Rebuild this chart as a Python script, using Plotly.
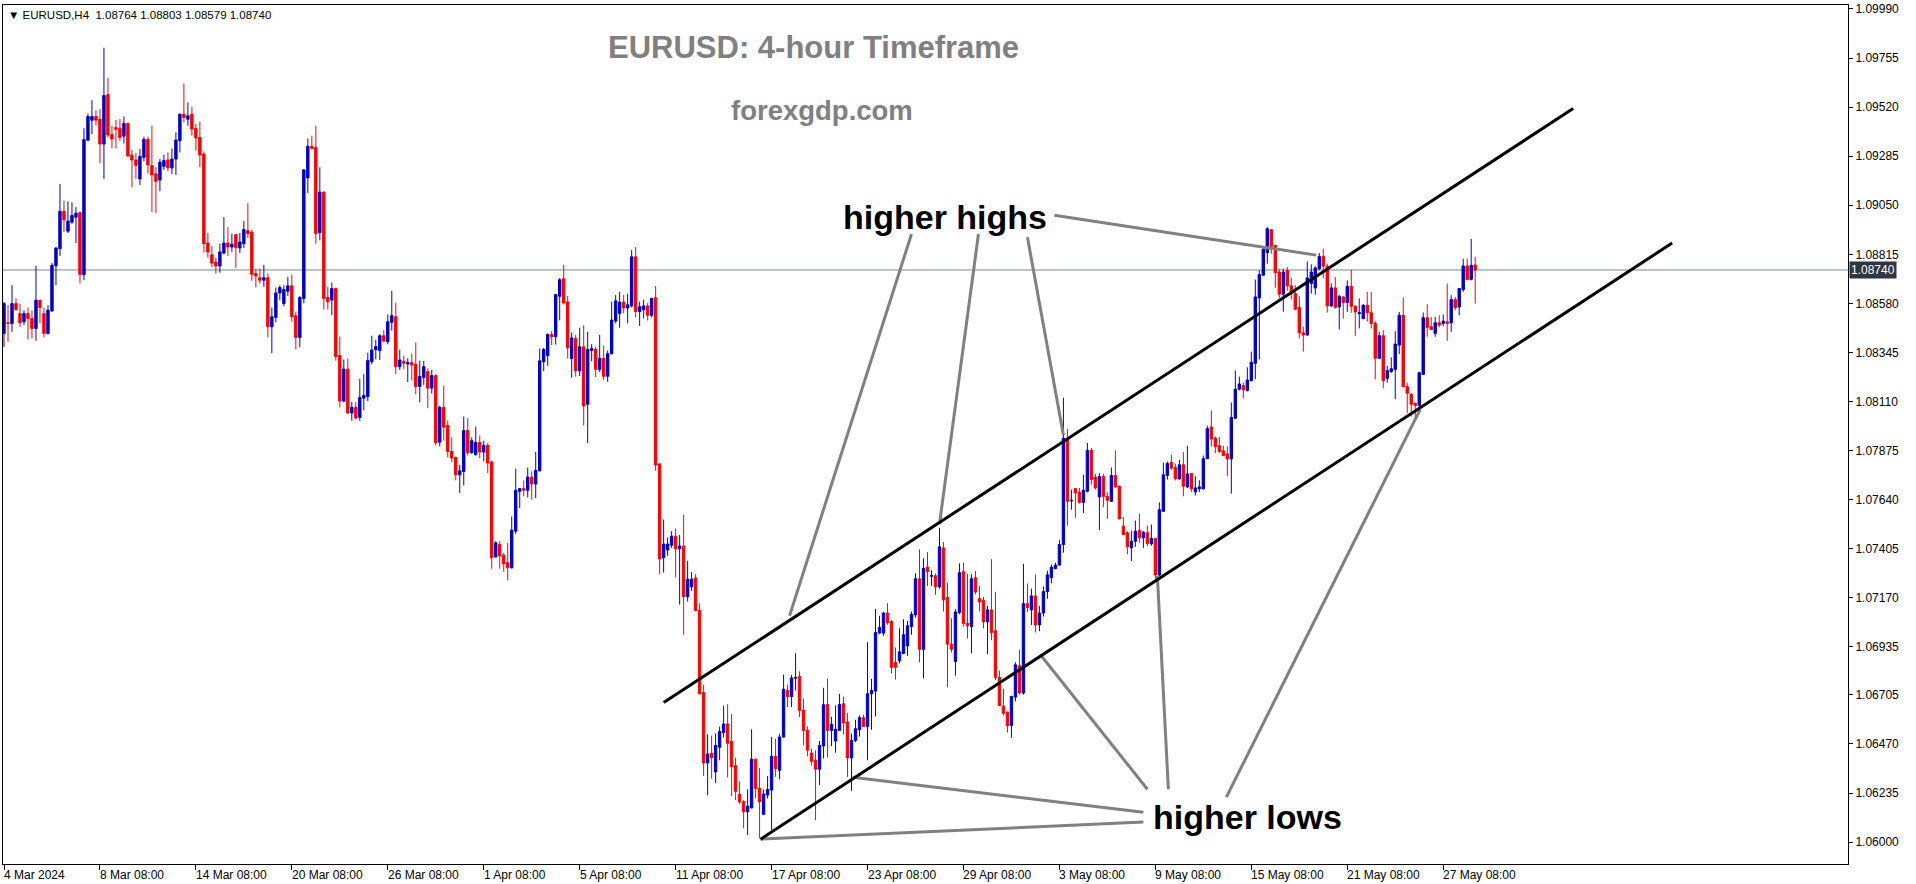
import plotly.graph_objects as go

# ---------------- data (EURUSD H4 candles) ----------------
bar_open = [
    1.08436, 1.08487, 1.08484, 1.08579, 1.08531, 1.08492, 1.08531, 1.08508, 1.08460, 1.08595, 1.08531, 1.08436, 1.08544, 1.08760, 1.08842, 1.09021, 1.08926, 1.08969, 1.08993, 1.09014, 1.08718, 1.09362, 1.09457, 1.09475, 1.09462, 1.09343, 1.09580, 1.09389, 1.09422, 1.09419, 1.09381, 1.09442, 1.09290, 1.09267, 1.09176, 1.09279, 1.09365,
    1.09240, 1.09200, 1.09171, 1.09236, 1.09267, 1.09229, 1.09271, 1.09359, 1.09486, 1.09462, 1.09486, 1.09418, 1.09375, 1.09295, 1.08869, 1.08813, 1.08778, 1.08759, 1.08821, 1.08869, 1.08850, 1.08909, 1.08845, 1.08866, 1.08929, 1.08921, 1.08723, 1.08703, 1.08691, 1.08703, 1.08468, 1.08513, 1.08630, 1.08579, 1.08638, 1.08664, 1.08521,
    1.08417, 1.08603, 1.09181, 1.09332, 1.09327, 1.08919, 1.09113, 1.08608, 1.08596, 1.08651, 1.08330, 1.08112, 1.08265, 1.08055, 1.08082, 1.08034, 1.08126, 1.08134, 1.08301, 1.08358, 1.08354, 1.08425, 1.08397, 1.08489, 1.08516, 1.08277, 1.08303, 1.08290, 1.08296, 1.08288, 1.08182, 1.08225, 1.08253, 1.08174, 1.08234, 1.07915, 1.08082,
    1.07995, 1.07871, 1.07842, 1.07759, 1.07775, 1.07971, 1.07866, 1.07855, 1.07914, 1.07868, 1.07900, 1.07820, 1.07366, 1.07425, 1.07374, 1.07338, 1.07314, 1.07489, 1.07680, 1.07693, 1.07685, 1.07748, 1.07715, 1.07778, 1.08300, 1.08330, 1.08431, 1.08420, 1.08614, 1.08698, 1.08587, 1.08316, 1.08412, 1.08257, 1.08372, 1.08097, 1.08354,
    1.08360, 1.08264, 1.08317, 1.08231, 1.08339, 1.08495, 1.08532, 1.08586, 1.08558, 1.08568, 1.08803, 1.08541, 1.08549, 1.08568, 1.08523, 1.08607, 1.07811, 1.07362, 1.07399, 1.07422, 1.07465, 1.07405, 1.07418, 1.07175, 1.07222, 1.07265, 1.07109, 1.06716, 1.06379, 1.06426, 1.06336, 1.06454, 1.06525, 1.06566, 1.06482, 1.06366, 1.06229,
    1.06193, 1.06145, 1.06164, 1.06397, 1.06257, 1.06133, 1.06225, 1.06249, 1.06411, 1.06344, 1.06503, 1.06726, 1.06697, 1.06785, 1.06793, 1.06631, 1.06535, 1.06427, 1.06392, 1.06349, 1.06460, 1.06659, 1.06535, 1.06484, 1.06535, 1.06662, 1.06575, 1.06403, 1.06487, 1.06538, 1.06596, 1.06554, 1.06710, 1.06723, 1.07001, 1.07001, 1.07097,
    1.07056, 1.06861, 1.06868, 1.06903, 1.06940, 1.07032, 1.07088, 1.07261, 1.06923, 1.07317, 1.07273, 1.07276, 1.07222, 1.07409, 1.07171, 1.06948, 1.06865, 1.07099, 1.07295, 1.07048, 1.07032, 1.07266, 1.07166, 1.07158, 1.07055, 1.07112, 1.07012, 1.06789, 1.06651, 1.06622, 1.06558, 1.06694, 1.06845, 1.06714, 1.07142, 1.07112, 1.07179,
    1.07040, 1.07097, 1.07200, 1.07266, 1.07310, 1.07327, 1.07425, 1.07934, 1.07634, 1.07693, 1.07675, 1.07627, 1.07680, 1.07876, 1.07748, 1.07653, 1.07751, 1.07656, 1.07632, 1.07756, 1.07704, 1.07513, 1.07481, 1.07409, 1.07441, 1.07492, 1.07457, 1.07481, 1.07428, 1.07454, 1.07279, 1.07584, 1.07756, 1.07818, 1.07794, 1.07739, 1.07807,
    1.07701, 1.07765, 1.07677, 1.07692, 1.07692, 1.07836, 1.07988, 1.07935, 1.07898, 1.07874, 1.07859, 1.07835, 1.08030, 1.08169, 1.08186, 1.08163, 1.08210, 1.08293, 1.08606, 1.08715, 1.08823, 1.08933, 1.08858, 1.08730, 1.08624, 1.08738, 1.08664, 1.08627, 1.08560, 1.08439, 1.08428, 1.08675, 1.08654, 1.08746, 1.08805, 1.08758, 1.08568,
    1.08654, 1.08563, 1.08611, 1.08584, 1.08662, 1.08566, 1.08531, 1.08507, 1.08571, 1.08535, 1.08484, 1.08317, 1.08425, 1.08221, 1.08253, 1.08264, 1.08380, 1.08523, 1.08181, 1.08145, 1.08102, 1.08091, 1.08240, 1.08511, 1.08468, 1.08436, 1.08487, 1.08484, 1.08492, 1.08487, 1.08598, 1.08563, 1.08646, 1.08759, 1.08695, 1.08764,
]
bar_high = [
    1.08587, 1.08571, 1.08667, 1.08603, 1.08579, 1.08547, 1.08560, 1.08547, 1.08759, 1.08597, 1.08560, 1.08571, 1.08773, 1.08850, 1.09152, 1.09072, 1.09069, 1.09064, 1.09041, 1.09020, 1.09419, 1.09489, 1.09553, 1.09505, 1.09510, 1.09804, 1.09661, 1.09430, 1.09459, 1.09462, 1.09475, 1.09446, 1.09314, 1.09300, 1.09319, 1.09378, 1.09378,
    1.09431, 1.09232, 1.09271, 1.09292, 1.09303, 1.09322, 1.09399, 1.09489, 1.09633, 1.09542, 1.09521, 1.09439, 1.09451, 1.09308, 1.08917, 1.08855, 1.08799, 1.08866, 1.08993, 1.08945, 1.08914, 1.08912, 1.08917, 1.08974, 1.09060, 1.08933, 1.08746, 1.08746, 1.08764, 1.08723, 1.08560, 1.08656, 1.08667, 1.08667, 1.08707, 1.08718, 1.08540,
    1.08615, 1.09224, 1.09370, 1.09383, 1.09431, 1.09232, 1.09116, 1.08659, 1.08680, 1.08656, 1.08421, 1.08311, 1.08316, 1.08107, 1.08107, 1.08218, 1.08241, 1.08344, 1.08425, 1.08405, 1.08432, 1.08452, 1.08527, 1.08640, 1.08583, 1.08358, 1.08330, 1.08317, 1.08339, 1.08393, 1.08306, 1.08304, 1.08269, 1.08261, 1.08241, 1.08090, 1.08187,
    1.08019, 1.07938, 1.07847, 1.07807, 1.08038, 1.08030, 1.07938, 1.07990, 1.07947, 1.07922, 1.07911, 1.07828, 1.07441, 1.07441, 1.07385, 1.07433, 1.07560, 1.07788, 1.07696, 1.07732, 1.07794, 1.07775, 1.07868, 1.08364, 1.08367, 1.08436, 1.08448, 1.08626, 1.08701, 1.08765, 1.08615, 1.08440, 1.08428, 1.08463, 1.08475, 1.08444, 1.08385,
    1.08373, 1.08429, 1.08377, 1.08354, 1.08588, 1.08620, 1.08635, 1.08620, 1.08626, 1.08835, 1.08850, 1.08588, 1.08597, 1.08582, 1.08607, 1.08663, 1.07815, 1.07545, 1.07459, 1.07489, 1.07502, 1.07471, 1.07568, 1.07347, 1.07293, 1.07283, 1.07143, 1.06754, 1.06516, 1.06510, 1.06520, 1.06553, 1.06654, 1.06660, 1.06613, 1.06404, 1.06291,
    1.06201, 1.06252, 1.06540, 1.06400, 1.06355, 1.06252, 1.06316, 1.06503, 1.06495, 1.06519, 1.06802, 1.06753, 1.06801, 1.06904, 1.06818, 1.06686, 1.06554, 1.06448, 1.06440, 1.06484, 1.06739, 1.06782, 1.06599, 1.06654, 1.06710, 1.06697, 1.06618, 1.06519, 1.06586, 1.06607, 1.06610, 1.06957, 1.06782, 1.07116, 1.07084, 1.07103, 1.07144,
    1.07063, 1.06932, 1.07024, 1.07067, 1.07059, 1.07104, 1.07287, 1.07402, 1.07359, 1.07389, 1.07301, 1.07287, 1.07505, 1.07437, 1.07242, 1.07072, 1.07115, 1.07335, 1.07338, 1.07285, 1.07282, 1.07298, 1.07226, 1.07174, 1.07131, 1.07355, 1.07198, 1.06821, 1.06733, 1.06625, 1.06701, 1.06861, 1.06921, 1.07333, 1.07238, 1.07214, 1.07282,
    1.07130, 1.07225, 1.07300, 1.07330, 1.07338, 1.07446, 1.08128, 1.07979, 1.07688, 1.07696, 1.07696, 1.07759, 1.07911, 1.07887, 1.07763, 1.07767, 1.07764, 1.07675, 1.07794, 1.07876, 1.07708, 1.07557, 1.07489, 1.07492, 1.07540, 1.07573, 1.07489, 1.07516, 1.07521, 1.07457, 1.07627, 1.07818, 1.07823, 1.07855, 1.07812, 1.07831, 1.07868,
    1.07898, 1.07768, 1.07752, 1.07733, 1.07851, 1.07994, 1.08067, 1.07943, 1.07940, 1.07898, 1.07895, 1.08105, 1.08258, 1.08229, 1.08202, 1.08274, 1.08349, 1.08694, 1.08738, 1.08853, 1.08945, 1.08934, 1.08860, 1.08746, 1.08746, 1.08754, 1.08703, 1.08667, 1.08614, 1.08468, 1.08781, 1.08767, 1.08758, 1.08821, 1.08842, 1.08770, 1.08675,
    1.08706, 1.08619, 1.08614, 1.08690, 1.08741, 1.08571, 1.08603, 1.08576, 1.08635, 1.08635, 1.08495, 1.08444, 1.08452, 1.08280, 1.08321, 1.08447, 1.08539, 1.08608, 1.08200, 1.08150, 1.08105, 1.08253, 1.08536, 1.08576, 1.08515, 1.08515, 1.08523, 1.08527, 1.08675, 1.08619, 1.08611, 1.08654, 1.08794, 1.08794, 1.08889, 1.08803,
]
bar_low = [
    1.08372, 1.08396, 1.08444, 1.08544, 1.08468, 1.08476, 1.08407, 1.08412, 1.08401, 1.08484, 1.08417, 1.08431, 1.08539, 1.08667, 1.08807, 1.08921, 1.08917, 1.08961, 1.08869, 1.08675, 1.08691, 1.09356, 1.09391, 1.09432, 1.09251, 1.09176, 1.09375, 1.09322, 1.09322, 1.09359, 1.09346, 1.09282, 1.09136, 1.09176, 1.09147, 1.09260, 1.09203,
    1.09017, 1.09012, 1.09117, 1.09219, 1.09213, 1.09200, 1.09195, 1.09303, 1.09446, 1.09431, 1.09383, 1.09311, 1.09232, 1.08823, 1.08799, 1.08754, 1.08723, 1.08727, 1.08815, 1.08807, 1.08826, 1.08750, 1.08821, 1.08845, 1.08894, 1.08688, 1.08656, 1.08675, 1.08659, 1.08417, 1.08341, 1.08489, 1.08595, 1.08567, 1.08616, 1.08492, 1.08360,
    1.08370, 1.08580, 1.09109, 1.09316, 1.08866, 1.08882, 1.08551, 1.08551, 1.08524, 1.08306, 1.08081, 1.08107, 1.08051, 1.08018, 1.08023, 1.08018, 1.08069, 1.08112, 1.08288, 1.08312, 1.08309, 1.08393, 1.08384, 1.08449, 1.08241, 1.08261, 1.08266, 1.08203, 1.08211, 1.08145, 1.08106, 1.08190, 1.08078, 1.08147, 1.07900, 1.07895, 1.07923,
    1.07842, 1.07820, 1.07732, 1.07672, 1.07708, 1.07852, 1.07858, 1.07852, 1.07839, 1.07823, 1.07767, 1.07309, 1.07362, 1.07309, 1.07295, 1.07253, 1.07309, 1.07476, 1.07600, 1.07656, 1.07651, 1.07640, 1.07648, 1.07775, 1.08256, 1.08281, 1.08380, 1.08383, 1.08499, 1.08574, 1.08316, 1.08224, 1.08229, 1.08232, 1.07995, 1.07911, 1.08303,
    1.08227, 1.08251, 1.08214, 1.08204, 1.08335, 1.08485, 1.08463, 1.08532, 1.08485, 1.08560, 1.08513, 1.08472, 1.08508, 1.08498, 1.08513, 1.07778, 1.07283, 1.07291, 1.07371, 1.07409, 1.07268, 1.07137, 1.06993, 1.07152, 1.07203, 1.07106, 1.06707, 1.06317, 1.06224, 1.06304, 1.06282, 1.06392, 1.06501, 1.06310, 1.06220, 1.06201, 1.06183,
    1.06066, 1.06034, 1.06161, 1.06209, 1.06018, 1.06129, 1.06209, 1.06058, 1.06312, 1.06301, 1.06500, 1.06647, 1.06647, 1.06726, 1.06599, 1.06463, 1.06411, 1.06368, 1.06106, 1.06273, 1.06400, 1.06405, 1.06460, 1.06428, 1.06532, 1.06516, 1.06312, 1.06245, 1.06479, 1.06506, 1.06551, 1.06392, 1.06538, 1.06602, 1.06996, 1.06988, 1.07041,
    1.06808, 1.06778, 1.06856, 1.06900, 1.06892, 1.06993, 1.07075, 1.06861, 1.06784, 1.07226, 1.07226, 1.07184, 1.07214, 1.07104, 1.06741, 1.06908, 1.06797, 1.07091, 1.07032, 1.06975, 1.06904, 1.07187, 1.07104, 1.07024, 1.06900, 1.06967, 1.06776, 1.06651, 1.06606, 1.06525, 1.06499, 1.06674, 1.06706, 1.06706, 1.07102, 1.07040, 1.07004,
    1.07010, 1.07080, 1.07165, 1.07240, 1.07306, 1.07322, 1.07386, 1.07516, 1.07592, 1.07553, 1.07621, 1.07576, 1.07675, 1.07712, 1.07688, 1.07494, 1.07605, 1.07548, 1.07629, 1.07697, 1.07545, 1.07470, 1.07378, 1.07346, 1.07414, 1.07433, 1.07409, 1.07417, 1.07420, 1.07261, 1.07274, 1.07581, 1.07736, 1.07783, 1.07732, 1.07736, 1.07656,
    1.07696, 1.07676, 1.07660, 1.07676, 1.07688, 1.07835, 1.07895, 1.07863, 1.07863, 1.07848, 1.07752, 1.07669, 1.08026, 1.08163, 1.08126, 1.08158, 1.08205, 1.08217, 1.08312, 1.08711, 1.08770, 1.08818, 1.08654, 1.08606, 1.08540, 1.08640, 1.08600, 1.08548, 1.08412, 1.08349, 1.08425, 1.08627, 1.08622, 1.08738, 1.08699, 1.08536, 1.08563,
    1.08555, 1.08455, 1.08507, 1.08539, 1.08535, 1.08423, 1.08460, 1.08504, 1.08492, 1.08460, 1.08216, 1.08313, 1.08173, 1.08200, 1.08248, 1.08121, 1.08337, 1.08178, 1.08054, 1.08038, 1.08030, 1.08078, 1.08237, 1.08420, 1.08452, 1.08420, 1.08465, 1.08471, 1.08401, 1.08444, 1.08547, 1.08523, 1.08635, 1.08690, 1.08690, 1.08579,
]
bar_close = [
    1.08579, 1.08484, 1.08579, 1.08551, 1.08487, 1.08531, 1.08508, 1.08460, 1.08595, 1.08560, 1.08436, 1.08547, 1.08762, 1.08845, 1.09021, 1.08980, 1.08974, 1.09001, 1.09012, 1.08718, 1.09365, 1.09475, 1.09475, 1.09457, 1.09343, 1.09575, 1.09386, 1.09367, 1.09414, 1.09375, 1.09442, 1.09286, 1.09267, 1.09241, 1.09284, 1.09365, 1.09243,
    1.09195, 1.09165, 1.09256, 1.09264, 1.09229, 1.09271, 1.09362, 1.09486, 1.09470, 1.09478, 1.09415, 1.09372, 1.09291, 1.08866, 1.08826, 1.08773, 1.08759, 1.08826, 1.08869, 1.08850, 1.08863, 1.08847, 1.08874, 1.08934, 1.08914, 1.08719, 1.08711, 1.08691, 1.08703, 1.08468, 1.08516, 1.08630, 1.08656, 1.08646, 1.08664, 1.08516, 1.08417,
    1.08608, 1.09219, 1.09332, 1.09323, 1.08914, 1.09113, 1.08604, 1.08588, 1.08651, 1.08325, 1.08112, 1.08265, 1.08055, 1.08082, 1.08031, 1.08129, 1.08139, 1.08306, 1.08357, 1.08373, 1.08425, 1.08400, 1.08492, 1.08521, 1.08277, 1.08309, 1.08293, 1.08296, 1.08285, 1.08182, 1.08230, 1.08277, 1.08174, 1.08234, 1.07912, 1.08082, 1.07987,
    1.07871, 1.07839, 1.07759, 1.07778, 1.07971, 1.07866, 1.07922, 1.07914, 1.07868, 1.07900, 1.07815, 1.07362, 1.07433, 1.07370, 1.07333, 1.07314, 1.07494, 1.07685, 1.07693, 1.07685, 1.07748, 1.07715, 1.07780, 1.08305, 1.08359, 1.08431, 1.08420, 1.08622, 1.08693, 1.08582, 1.08367, 1.08415, 1.08257, 1.08372, 1.08089, 1.08359, 1.08364,
    1.08264, 1.08317, 1.08231, 1.08339, 1.08500, 1.08592, 1.08586, 1.08558, 1.08573, 1.08803, 1.08541, 1.08564, 1.08568, 1.08523, 1.08603, 1.07806, 1.07356, 1.07427, 1.07427, 1.07465, 1.07405, 1.07418, 1.07175, 1.07259, 1.07259, 1.07109, 1.06710, 1.06379, 1.06422, 1.06404, 1.06463, 1.06529, 1.06566, 1.06473, 1.06361, 1.06243, 1.06192,
    1.06145, 1.06172, 1.06397, 1.06257, 1.06193, 1.06230, 1.06252, 1.06411, 1.06352, 1.06503, 1.06732, 1.06697, 1.06786, 1.06788, 1.06631, 1.06535, 1.06440, 1.06387, 1.06349, 1.06463, 1.06658, 1.06535, 1.06564, 1.06540, 1.06659, 1.06570, 1.06403, 1.06487, 1.06543, 1.06596, 1.06554, 1.06710, 1.06726, 1.07004, 1.07028, 1.07097, 1.07052,
    1.06837, 1.06837, 1.06911, 1.06993, 1.07036, 1.07091, 1.07261, 1.06923, 1.07311, 1.07295, 1.07276, 1.07222, 1.07414, 1.07160, 1.06948, 1.06923, 1.07102, 1.07290, 1.07047, 1.07036, 1.07261, 1.07198, 1.07150, 1.07055, 1.07112, 1.07004, 1.06789, 1.06654, 1.06617, 1.06558, 1.06697, 1.06849, 1.06714, 1.07142, 1.07123, 1.07179, 1.07040,
    1.07097, 1.07200, 1.07280, 1.07317, 1.07327, 1.07425, 1.07934, 1.07632, 1.07637, 1.07672, 1.07627, 1.07685, 1.07876, 1.07736, 1.07696, 1.07751, 1.07656, 1.07637, 1.07756, 1.07701, 1.07548, 1.07473, 1.07414, 1.07441, 1.07489, 1.07457, 1.07484, 1.07430, 1.07454, 1.07279, 1.07592, 1.07759, 1.07813, 1.07791, 1.07740, 1.07807, 1.07704,
    1.07763, 1.07692, 1.07696, 1.07701, 1.07836, 1.07980, 1.07930, 1.07895, 1.07871, 1.07851, 1.07835, 1.08034, 1.08169, 1.08194, 1.08166, 1.08213, 1.08298, 1.08611, 1.08718, 1.08839, 1.08937, 1.08853, 1.08727, 1.08624, 1.08730, 1.08664, 1.08627, 1.08552, 1.08439, 1.08428, 1.08702, 1.08730, 1.08750, 1.08805, 1.08758, 1.08568, 1.08654,
    1.08560, 1.08614, 1.08584, 1.08662, 1.08566, 1.08539, 1.08535, 1.08571, 1.08535, 1.08484, 1.08317, 1.08425, 1.08210, 1.08258, 1.08267, 1.08385, 1.08523, 1.08181, 1.08150, 1.08097, 1.08091, 1.08248, 1.08511, 1.08465, 1.08455, 1.08487, 1.08476, 1.08495, 1.08484, 1.08598, 1.08560, 1.08651, 1.08759, 1.08694, 1.08762, 1.08740,
]

time_tick_index = [0, 24, 48, 72, 96, 120, 144, 168, 192, 216, 240, 264, 288, 312, 336, 360]
time_tick_labels = ["4 Mar 2024", "8 Mar 08:00", "14 Mar 08:00", "20 Mar 08:00", "26 Mar 08:00",
                    "1 Apr 08:00", "5 Apr 08:00", "11 Apr 08:00", "17 Apr 08:00", "23 Apr 08:00",
                    "29 Apr 08:00", "3 May 08:00", "9 May 08:00", "15 May 08:00", "21 May 08:00",
                    "27 May 08:00"]
price_ticks = [1.06000, 1.06235, 1.06470, 1.06705, 1.06935, 1.07170, 1.07405, 1.07640, 1.07875,
               1.08110, 1.08345, 1.08580, 1.08815, 1.09050, 1.09285, 1.09520, 1.09755, 1.09990]
last_price = 1.08740

# channel trend lines (bar index, price)
upper_channel_x = [165.0, 392.5]
upper_channel_y = [1.06668, 1.09513]
lower_channel_x = [189.25, 417.25]
lower_channel_y = [1.06014, 1.08869]

# pointer lines: start near the label, end at the swing point
hh_start_x = [227.0, 243.75, 256.0, 262.75]
hh_start_y = [1.08912, 1.08912, 1.08897, 1.09002]
hh_end_x = [196.5, 234.0, 265.0, 328.25]
hh_end_y = [1.07084, 1.07523, 1.07948, 1.08811]
hl_start_x = [285.0, 285.0, 286.0, 291.25, 305.75]
hl_start_y = [1.06096, 1.06143, 1.06253, 1.06253, 1.06215]
hl_end_x = [189.25, 212.25, 259.25, 288.5, 354.25]
hl_end_y = [1.06014, 1.06310, 1.06897, 1.07275, 1.08072]

n = len(bar_open)
assert all(len(a) == n for a in (bar_high, bar_low, bar_close)), [len(a) for a in (bar_open, bar_high, bar_low, bar_close)]
bar_index = list(range(n))

W, H = 1916, 884
ML, MR, MT, MB = 2, 68, 2, 20
FONT = "Liberation Sans, Arial, sans-serif"

fig = go.Figure()
fig.add_trace(go.Candlestick(
    x=bar_index, open=bar_open, high=bar_high, low=bar_low, close=bar_close,
    increasing=dict(line=dict(color="#0000CD", width=1), fillcolor="#0000CD"),
    decreasing=dict(line=dict(color="#FF0000", width=1), fillcolor="#FF0000"),
    whiskerwidth=0, showlegend=False, hoverinfo="skip",
))


def segs(x0, y0, x1, y1):
    xs, ys = [], []
    for a, b, c, d in zip(x0, y0, x1, y1):
        xs += [a, c, None]
        ys += [b, d, None]
    return xs, ys


gx, gy = segs(hh_start_x + hl_start_x, hh_start_y + hl_start_y, hh_end_x + hl_end_x, hh_end_y + hl_end_y)
fig.add_trace(go.Scatter(x=gx, y=gy, mode="lines", line=dict(color="#808080", width=3),
                         showlegend=False, hoverinfo="skip"))
for cx, cy in ((upper_channel_x, upper_channel_y), (lower_channel_x, lower_channel_y)):
    fig.add_trace(go.Scatter(x=cx, y=cy, mode="lines", line=dict(color="#000000", width=3),
                             showlegend=False, hoverinfo="skip"))

annotations = []
for ti, lab in zip(time_tick_index, time_tick_labels):
    annotations.append(dict(x=ti, xref="x", y=0, yref="paper", yanchor="top", xanchor="left",
                            text=lab, showarrow=False, xshift=-2, yshift=-2,
                            font=dict(family=FONT, size=12, color="#000000")))
annotations += [
    dict(x=0, xref="paper", y=1, yref="paper", xanchor="left", yanchor="top", xshift=3, yshift=-2,
         text="▼ EURUSD,H4  %.5f %.5f %.5f %.5f" % (bar_open[-1], bar_high[-1], bar_low[-1], bar_close[-1]),
         showarrow=False, font=dict(family=FONT, size=11.5, color="#000000")),
    dict(x=202.5, xref="x", y=1.09805, yref="y", text="<b>EURUSD: 4-hour Timeframe</b>", showarrow=False,
         font=dict(family=FONT, size=31, color="#808080")),
    dict(x=204.5, xref="x", y=1.09505, yref="y", text="<b>forexgdp.com</b>", showarrow=False,
         font=dict(family=FONT, size=27.5, color="#808080")),
    dict(x=235.5, xref="x", y=1.08993, yref="y", text="<b>higher highs</b>", showarrow=False,
         font=dict(family=FONT, size=34, color="#000000")),
    dict(x=311.0, xref="x", y=1.06119, yref="y", text="<b>higher lows</b>", showarrow=False,
         font=dict(family=FONT, size=34, color="#000000")),
    dict(x=1, xref="paper", y=last_price, yref="y", xanchor="left", text="%.5f" % last_price,
         showarrow=False, bgcolor="#2f3640", borderpad=1, xshift=1,
         font=dict(family=FONT, size=12, color="#FFFFFF")),
]

fig.update_layout(
    width=W, height=H, margin=dict(l=ML, r=MR, t=MT, b=MB, pad=0),
    paper_bgcolor="#FFFFFF", plot_bgcolor="#FFFFFF",
    boxgap=0.4, boxgroupgap=0, showlegend=False,
    annotations=annotations,
    shapes=[dict(type="line", xref="paper", x0=0, x1=1, yref="y", y0=last_price, y1=last_price,
                 line=dict(color="#778899", width=1), layer="below")],
    xaxis=dict(range=[-0.25, 461.25], showgrid=False, zeroline=False, showticklabels=False,
               tickmode="array", tickvals=time_tick_index, ticks="outside", ticklen=5, tickwidth=1,
               tickcolor="#000000", showline=True, linecolor="#000000", linewidth=1, mirror=True,
               rangeslider=dict(visible=False), fixedrange=True),
    yaxis=dict(range=[1.05895, 1.10009], side="right", showgrid=False, zeroline=False,
               tickmode="array", tickvals=price_ticks, ticktext=["%.5f" % p for p in price_ticks],
               ticks="outside", ticklen=4, tickwidth=1, tickcolor="#000000",
               showline=True, linecolor="#000000", linewidth=1, mirror=True,
               ticklabeloverflow="allow",
               tickfont=dict(family=FONT, size=12, color="#000000"), fixedrange=True),
)

fig.write_html("out.html", config={"displayModeBar": False},
               post_script="document.body.style.margin='0';document.body.style.overflow='hidden';")
